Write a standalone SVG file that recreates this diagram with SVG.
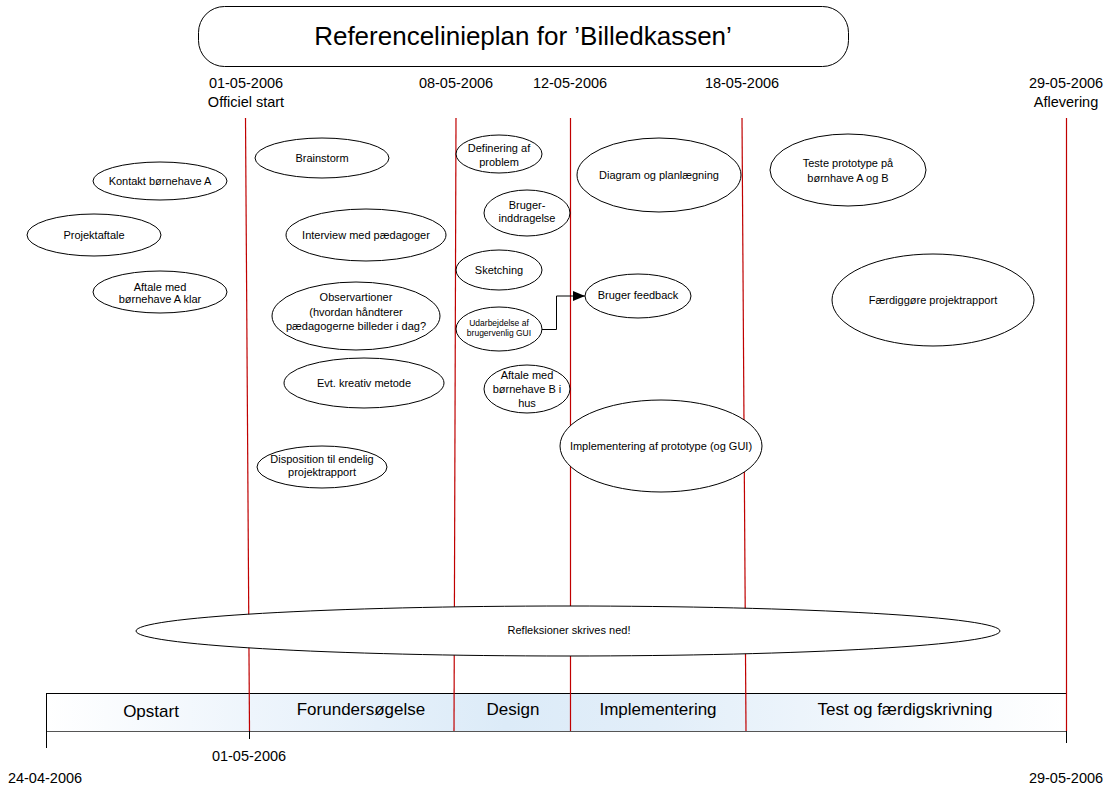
<svg xmlns="http://www.w3.org/2000/svg" width="1109" height="787" viewBox="0 0 1109 787">
  <defs>
    <linearGradient id="barFill" x1="46" y1="0" x2="1066" y2="0" gradientUnits="userSpaceOnUse">
      <stop offset="0" stop-color="#ffffff"/>
      <stop offset="0.2" stop-color="#eef5fc"/>
      <stop offset="0.45" stop-color="#dcebf8"/>
      <stop offset="0.6" stop-color="#e2eef9"/>
      <stop offset="1" stop-color="#ffffff"/>
    </linearGradient>
    <marker id="arrow" markerWidth="12" markerHeight="10" refX="12" refY="5" orient="auto" markerUnits="userSpaceOnUse">
      <path d="M0,0 L12,5 L0,10 Z" fill="#000"/>
    </marker>
  </defs>
  <style>
    text { font-family: "Liberation Sans", Arial, sans-serif; fill: #000; }
    .node ellipse { fill: #fff; stroke: #000; stroke-width: 1; }
    .lbl { font-size: 11px; text-anchor: middle; }
    .small { font-size: 8.5px; text-anchor: middle; }
    .date { font-size: 14.5px; text-anchor: middle; }
    .phase { font-size: 17px; text-anchor: middle; }
    .milestone { stroke: #c00000; stroke-width: 1.2; fill: none; }
    .tick { stroke: #000; stroke-width: 1; fill: none; }
  </style>
  <rect width="1109" height="787" fill="#fff"/>

  <!-- title -->
  <g id="title">
    <rect x="198.5" y="6.5" width="650" height="60" rx="26" ry="26" fill="#fff" stroke="#000" stroke-width="1"/>
    <text x="523" y="45" font-size="26" text-anchor="middle">Referencelinieplan for ’Billedkassen’</text>
  </g>

  <!-- milestone dates along the top -->
  <g id="top-dates">
    <text class="date" x="246" y="88">01-05-2006</text>
    <text class="date" x="246" y="107">Officiel start</text>
    <text class="date" x="456" y="88">08-05-2006</text>
    <text class="date" x="570" y="88">12-05-2006</text>
    <text class="date" x="742" y="88">18-05-2006</text>
    <text class="date" x="1066" y="88">29-05-2006</text>
    <text class="date" x="1066" y="107">Aflevering</text>
  </g>

  <!-- phase bar -->
  <g id="phase-bar">
    <rect x="46" y="693" width="1020" height="38" fill="url(#barFill)"/>
    <line x1="46" y1="693.5" x2="1066" y2="693.5" stroke="#000" stroke-width="1"/>
    <line x1="46" y1="731.5" x2="1066" y2="731.5" stroke="#555" stroke-width="1.2"/>
    <line class="tick" x1="46.5" y1="693" x2="46.5" y2="748"/>
    <line class="tick" x1="249.5" y1="731" x2="249.5" y2="739"/>
    <line class="tick" x1="1066.5" y1="731" x2="1066.5" y2="743"/>
    <text class="phase" x="151" y="717">Opstart</text>
    <text class="phase" x="361" y="715">Forundersøgelse</text>
    <text class="phase" x="513" y="715">Design</text>
    <text class="phase" x="658" y="715">Implementering</text>
    <text class="phase" x="905" y="715">Test og færdigskrivning</text>
  </g>

  <!-- milestone lines -->
  <g id="milestones">
    <line class="milestone" x1="245.5" y1="118" x2="249.5" y2="731"/>
    <line class="milestone" x1="456" y1="118" x2="454" y2="731"/>
    <line class="milestone" x1="570.5" y1="118" x2="570.5" y2="731"/>
    <line class="milestone" x1="742" y1="118" x2="746" y2="731"/>
    <line class="milestone" x1="1066.5" y1="118" x2="1066.5" y2="731"/>
  </g>

  <!-- bottom dates -->
  <g id="bottom-dates">
    <text class="date" x="249" y="761">01-05-2006</text>
    <text class="date" x="45" y="783">24-04-2006</text>
    <text class="date" x="1066" y="783">29-05-2006</text>
  </g>

  <!-- activities -->
  <g id="n-kontakt" class="node">
    <ellipse cx="160" cy="181" rx="67" ry="19"/>
    <text class="lbl" x="160" y="185">Kontakt børnehave A</text>
  </g>
  <g id="n-projektaftale" class="node">
    <ellipse cx="94" cy="235" rx="67" ry="21"/>
    <text class="lbl" x="94" y="239">Projektaftale</text>
  </g>
  <g id="n-aftale-a" class="node">
    <ellipse cx="160" cy="292" rx="67" ry="21"/>
    <text class="lbl" x="160" y="290.5">Aftale med</text>
    <text class="lbl" x="160" y="303">børnehave A klar</text>
  </g>
  <g id="n-brainstorm" class="node">
    <ellipse cx="322" cy="158" rx="67" ry="20"/>
    <text class="lbl" x="322" y="162">Brainstorm</text>
  </g>
  <g id="n-interview" class="node">
    <ellipse cx="366" cy="235" rx="80" ry="26"/>
    <text class="lbl" x="366" y="239">Interview med pædagoger</text>
  </g>
  <g id="n-observationer" class="node">
    <ellipse cx="356" cy="316" rx="84" ry="34"/>
    <text class="lbl" x="356" y="301">Observartioner</text>
    <text class="lbl" x="356" y="316">(hvordan håndterer</text>
    <text class="lbl" x="356" y="330">pædagogerne billeder i dag?</text>
  </g>
  <g id="n-kreativ" class="node">
    <ellipse cx="364" cy="383" rx="80" ry="25"/>
    <text class="lbl" x="364" y="387">Evt. kreativ metode</text>
  </g>
  <g id="n-disposition" class="node">
    <ellipse cx="322" cy="467" rx="65" ry="21"/>
    <text class="lbl" x="322" y="463">Disposition til endelig</text>
    <text class="lbl" x="322" y="475.5">projektrapport</text>
  </g>
  <g id="n-definering" class="node">
    <ellipse cx="499" cy="154" rx="43" ry="19"/>
    <text class="lbl" x="499" y="152">Definering af</text>
    <text class="lbl" x="499" y="165.5">problem</text>
  </g>
  <g id="n-brugerinddragelse" class="node">
    <ellipse cx="527" cy="213" rx="43" ry="23"/>
    <text class="lbl" x="527" y="209">Bruger-</text>
    <text class="lbl" x="527" y="222">inddragelse</text>
  </g>
  <g id="n-sketching" class="node">
    <ellipse cx="499" cy="270" rx="43" ry="20"/>
    <text class="lbl" x="499" y="274">Sketching</text>
  </g>
  <g id="n-gui" class="node">
    <ellipse cx="499" cy="329" rx="43" ry="22"/>
    <text class="small" x="499" y="325.5">Udarbejdelse af</text>
    <text class="small" x="499" y="335.5">brugervenlig GUI</text>
  </g>
  <g id="n-aftale-b" class="node">
    <ellipse cx="527" cy="389" rx="43" ry="24"/>
    <text class="lbl" x="527" y="379">Aftale med</text>
    <text class="lbl" x="527" y="393">børnehave B i</text>
    <text class="lbl" x="527" y="406.5">hus</text>
  </g>
  <g id="n-diagram" class="node">
    <ellipse cx="659" cy="175" rx="82" ry="37"/>
    <text class="lbl" x="659" y="179">Diagram og planlægning</text>
  </g>
  <g id="n-feedback" class="node">
    <ellipse cx="638" cy="296" rx="53" ry="22"/>
    <text class="lbl" x="638" y="299">Bruger feedback</text>
  </g>
  <g id="n-implementering" class="node">
    <ellipse cx="661" cy="446" rx="101" ry="46"/>
    <text class="lbl" x="661" y="450">Implementering af prototype (og GUI)</text>
  </g>
  <g id="n-teste" class="node">
    <ellipse cx="848" cy="170" rx="78" ry="36"/>
    <text class="lbl" x="848" y="167">Teste prototype på</text>
    <text class="lbl" x="848" y="181.5">børnhave A og B</text>
  </g>
  <g id="n-faerdiggoere" class="node">
    <ellipse cx="933" cy="300" rx="101" ry="46"/>
    <text class="lbl" x="933" y="304">Færdiggøre projektrapport</text>
  </g>
  <g id="n-refleksioner" class="node">
    <ellipse cx="568" cy="631" rx="432" ry="25"/>
    <text class="lbl" x="569" y="634">Refleksioner skrives ned!</text>
  </g>

  <!-- connectors -->
  <g id="connectors">
    <path d="M542,329.5 H556.5 V296 H585" fill="none" stroke="#000" stroke-width="1" marker-end="url(#arrow)"/>
  </g>
</svg>
